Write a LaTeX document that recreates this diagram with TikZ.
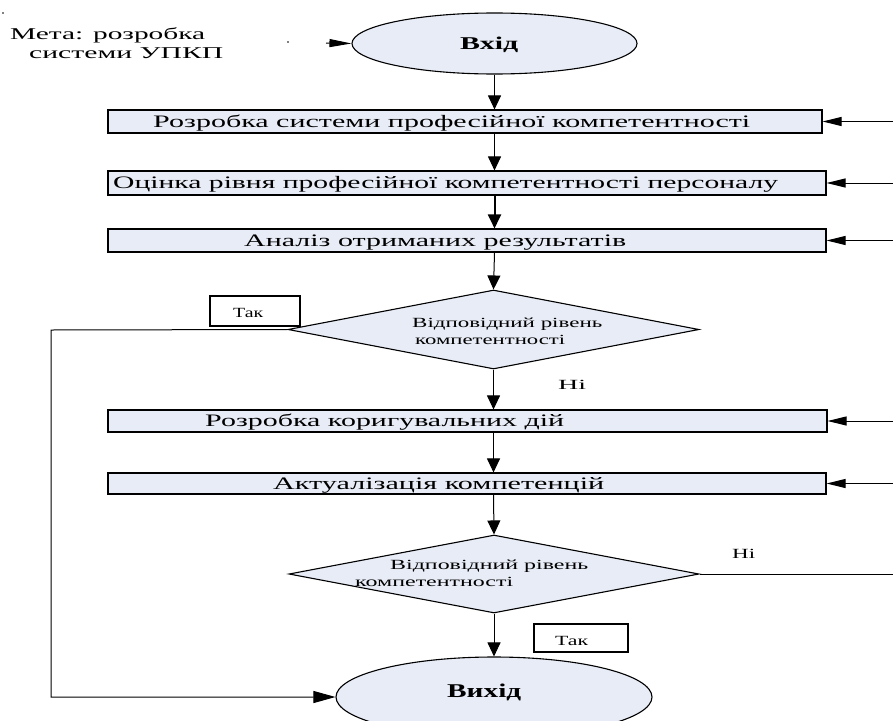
\documentclass[tikz,border=0pt]{standalone}
\usepackage{fontspec}
\setmainfont{Liberation Serif}
\usetikzlibrary{arrows.meta,shapes.geometric}
\definecolor{boxfill}{RGB}{232,236,246}
\newcommand{\fw}[2]{\resizebox{#1}{\height}{#2}}
\tikzset{
  shapeline/.style={draw=black,line width=1.1pt,fill=boxfill,inner sep=0pt},
  stepbox/.style={shapeline,rectangle},
  oval/.style={shapeline,ellipse},
  decision/.style={shapeline,diamond},
  tagbox/.style={draw=black,line width=1.1pt,fill=white,rectangle,inner sep=0pt},
  lbl/.style={inner sep=0pt,anchor=base west},
  conn/.style={line width=1pt},
  varrow/.style={conn,-{Triangle[length=14pt,width=13pt]}},
  harrow/.style={conn,-{Triangle[length=19pt,width=9pt]}},
}
\begin{document}
\begin{tikzpicture}[x=1pt,y=-1pt]
\useasboundingbox (0,0) rectangle (893,720);
\clip (0,0) rectangle (893,720);
\fill[white] (0,0) rectangle (893,720);

% goal text
\node[lbl] (goal1) at (10,39) {\fw{195pt}{\fontsize{16.5}{19}\selectfont Мета: розробка}};
\node[lbl] (goal2) at (29,58) {\fw{194pt}{\fontsize{16.5}{19}\selectfont системи УПКП}};
\fill (288,42) circle (0.9);
\fill (3,13) circle (0.9);

% terminals
\node[oval,minimum width=285pt,minimum height=61pt] (in) at (494.5,43.5) {};
\node[lbl] (intext) at (460,49) {\fw{58pt}{\fontsize{18}{20}\selectfont\bfseries Вхід}};
\node[oval,minimum width=316pt,minimum height=80pt] (out) at (494,697) {};
\node[lbl] (outtext) at (447,697) {\fw{74pt}{\fontsize{19.5}{22}\selectfont\bfseries Вихід}};

% process boxes
\node[stepbox,minimum width=714pt,minimum height=23pt] (b1) at (465,121.5) {};
\node[lbl] (t1) at (153,127) {\fw{597pt}{\fontsize{17.5}{20}\selectfont Розробка системи професійної компетентності}};
\node[stepbox,minimum width=718pt,minimum height=24pt] (b2) at (467,183) {};
\node[lbl] (t2) at (113,188.5) {\fw{665pt}{\fontsize{17.5}{20}\selectfont Оцінка рівня професійної компетентності персоналу}};
\node[stepbox,minimum width=718pt,minimum height=23pt] (b3) at (467,240.5) {};
\node[lbl] (t3) at (244,246) {\fw{382pt}{\fontsize{17.5}{20}\selectfont Аналіз отриманих результатів}};
\node[stepbox,minimum width=719pt,minimum height=22pt] (b4) at (467.5,421) {};
\node[lbl] (t4) at (205,426.5) {\fw{359pt}{\fontsize{17.5}{20}\selectfont Розробка коригувальних дій}};
\node[stepbox,minimum width=718pt,minimum height=21pt] (b5) at (467,483.5) {};
\node[lbl] (t5) at (273,489) {\fw{331pt}{\fontsize{17.5}{20}\selectfont Актуалізація компетенцій}};

% decisions
\node[decision,minimum width=411pt,minimum height=79pt] (d1) at (493.5,329.5) {};
\node[lbl] (d1a) at (412,327) {\fw{190pt}{\fontsize{14}{16}\selectfont Відповідний рівень}};
\node[lbl] (d1b) at (415,344) {\fw{150pt}{\fontsize{14}{16}\selectfont компетентності}};
\node[decision,minimum width=410pt,minimum height=78pt] (d2) at (494,574) {};
\node[lbl] (d2a) at (390,569) {\fw{198pt}{\fontsize{14}{16}\selectfont Відповідний рівень}};
\node[lbl] (d2b) at (355,586) {\fw{158pt}{\fontsize{14}{16}\selectfont компетентності}};

% yes / no labels
\node[tagbox,minimum width=90pt,minimum height=30pt] (yes1) at (255,311) {};
\node[lbl] (yes1t) at (233,317) {\fw{30pt}{\fontsize{14}{16}\selectfont Так}};
\node[tagbox,minimum width=94pt,minimum height=28pt] (yes2) at (581,638) {};
\node[lbl] (yes2t) at (555,645) {\fw{33pt}{\fontsize{14}{16}\selectfont Так}};
\node[lbl] (no1) at (558,389) {\fw{28pt}{\fontsize{14}{16}\selectfont Ні}};
\node[lbl] (no2) at (732,558) {\fw{23pt}{\fontsize{14}{16}\selectfont Ні}};

% main flow
\coordinate (gstart) at (326,43);
\draw[conn,-{Triangle[length=22pt,width=8pt]}] (gstart) -- (in.west);
\draw[varrow] (in.south) -- (b1.north -| in.south);
\draw[varrow] (b1.south -| in.south) -- (b2.north -| in.south);
\draw[line width=2pt,-{Triangle[length=14pt,width=13pt]}] (b2.south -| in.south) -- (b3.north -| in.south);
\draw[varrow] (b3.south -| in.south) -- (d1.north);
\draw[varrow] (d1.south) -- (b4.north -| d1.south);
\draw[varrow] (b4.south -| d1.south) -- (b5.north -| d1.south);
\draw[varrow] (b5.south -| d1.south) -- (d2.north);
\draw[varrow] (d2.south) -- (out.north);

% yes branch of first decision
\coordinate (l1) at (51,330);
\coordinate (l2) at (51,697);
\draw[conn,-{Triangle[length=22pt,width=12pt]}] (d1.west) -- (l1) -- (l2) -- (out.west);

% feedback from the right
\coordinate (r1) at (893,121.5);
\coordinate (r2) at (893,183);
\coordinate (r3) at (893,240.5);
\coordinate (r4) at (893,421);
\coordinate (r5) at (893,483.5);
\coordinate (r6) at (893,574);
\draw[harrow] (r1) -- (b1.east);
\draw[harrow] (r2) -- (b2.east);
\draw[harrow] (r3) -- (b3.east);
\draw[harrow] (r4) -- (b4.east);
\draw[harrow] (r5) -- (b5.east);
\draw[conn] (d2.east) -- (r6);
\end{tikzpicture}
\end{document}
